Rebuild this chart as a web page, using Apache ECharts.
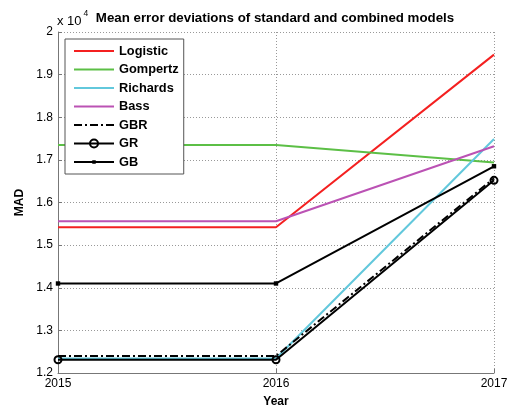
<!DOCTYPE html>
<html>
<head>
<meta charset="utf-8">
<script src="https://cdn.jsdelivr.net/npm/echarts@6/dist/echarts.min.js"></script>
<style>html,body{margin:0;padding:0;background:#fff}#c{width:509px;height:410px}</style>
</head>
<body>
<div id="c"></div>
<script>
// Data (MAD in units of 10^4)
const years = [2015, 2016, 2017];
const seriesNames = ['Logistic', 'Gompertz', 'Richards', 'Bass', 'GBR', 'GR', 'GB'];
const logistic = [1.542, 1.542, 1.947];
const gompertz = [1.735, 1.735, 1.694];
const richards = [1.234, 1.234, 1.749];
const bass = [1.556, 1.556, 1.732];
const gbr = [1.240, 1.240, 1.657];
const gr = [1.231, 1.231, 1.652];
const gb = [1.410, 1.410, 1.685];

const FONT = 'Liberation Sans, Arial, sans-serif';
const pair = arr => years.map((y, i) => [y, arr[i]]);
// small square centred in a padded box (degenerate corner points widen the bbox)
const SMALL_SQ = 'path://M0,0L0,0M10,10L10,10M2.8,2.8L7.2,2.8L7.2,7.2L2.8,7.2Z';

function mk(name, arr, color, extra) {
  return Object.assign({
    name: name, type: 'line', data: pair(arr),
    symbol: 'none', showSymbol: false,
    lineStyle: { color: color, width: 2 },
    itemStyle: { color: color, opacity: 0 },
    emphasis: { disabled: true },
    silent: true
  }, extra || {});
}

const chart = echarts.init(document.getElementById('c'), null, { renderer: 'canvas' });
chart.setOption({
  animation: false,
  backgroundColor: '#fff',
  textStyle: { fontFamily: FONT },
  title: {
    text: 'Mean error deviations of standard and combined models',
    left: 270, top: 7, textAlign: 'center',
    textStyle: { fontFamily: FONT, fontSize: 13.3, fontWeight: 'bold', color: '#000' }
  },
  graphic: [{
    type: 'text', left: 57, top: 9,
    style: {
      text: '{a|x 10}{b|4}',
      rich: {
        a: { fontFamily: FONT, fontSize: 13, fill: '#000', verticalAlign: 'bottom', padding: [6, 0, 0, 0] },
        b: { fontFamily: FONT, fontSize: 8.5, fill: '#000', verticalAlign: 'top', padding: [0, 0, 0, 2] }
      }
    }
  }],
  grid: { left: 58, right: 15, top: 32, bottom: 37, containLabel: false, outerBoundsMode: 'none' },
  legend: {
    data: seriesNames,
    orient: 'vertical', left: 65, top: 39,
    itemWidth: 40, itemHeight: 10, itemGap: 4.5,
    padding: [5, 5, 5, 8],
    backgroundColor: '#fff', borderColor: '#555', borderWidth: 1,
    textStyle: { fontFamily: FONT, fontSize: 12.8, fontWeight: 'bold', color: '#000', lineHeight: 14 },
    selectedMode: false
  },
  xAxis: {
    type: 'value', min: 2015, max: 2017, interval: 1,
    name: 'Year', nameLocation: 'middle', nameGap: 23,
    nameTextStyle: { fontFamily: FONT, fontSize: 12, fontWeight: 'bold', color: '#000' },
    axisLine: { show: true, lineStyle: { color: '#777', width: 1 } },
    axisTick: { show: true, inside: true, length: 4, lineStyle: { color: '#777' } },
    axisLabel: { fontFamily: FONT, fontSize: 12, color: '#000', margin: 5, formatter: v => String(v) },
    splitLine: { show: true, lineStyle: { color: '#999', type: [1, 2], width: 1 } }
  },
  yAxis: {
    type: 'value', min: 1.2, max: 2, interval: 0.1,
    name: 'MAD', nameLocation: 'middle', nameGap: 28, nameRotate: 90,
    nameTextStyle: { fontFamily: FONT, fontSize: 12, fontWeight: 'bold', color: '#000' },
    axisLine: { show: true, lineStyle: { color: '#777', width: 1 } },
    axisTick: { show: true, inside: true, length: 4, lineStyle: { color: '#777' } },
    axisLabel: { fontFamily: FONT, fontSize: 12, color: '#000', margin: 5,
      formatter: v => String(Number(v.toFixed(1))) },
    splitLine: { show: true, lineStyle: { color: '#999', type: [1, 2], width: 1 } }
  },
  series: [
    mk('Logistic', logistic, '#f42020'),
    mk('Gompertz', gompertz, '#5cbf46'),
    mk('Richards', richards, '#62c8dc'),
    mk('Bass', bass, '#bb52b4'),
    mk('GBR', gbr, '#000', { lineStyle: { color: '#000', width: 2, type: [8, 3, 2, 3] } }),
    mk('GR', gr, '#000', {
      symbol: 'circle', showSymbol: true, symbolSize: 7,
      itemStyle: { color: 'rgba(255,255,255,0)', borderColor: '#000', borderWidth: 2 }
    }),
    mk('GB', gb, '#000', {
      symbol: SMALL_SQ, showSymbol: true, symbolSize: 10,
      itemStyle: { color: '#000' }
    })
  ]
});
</script>
</body>
</html>
